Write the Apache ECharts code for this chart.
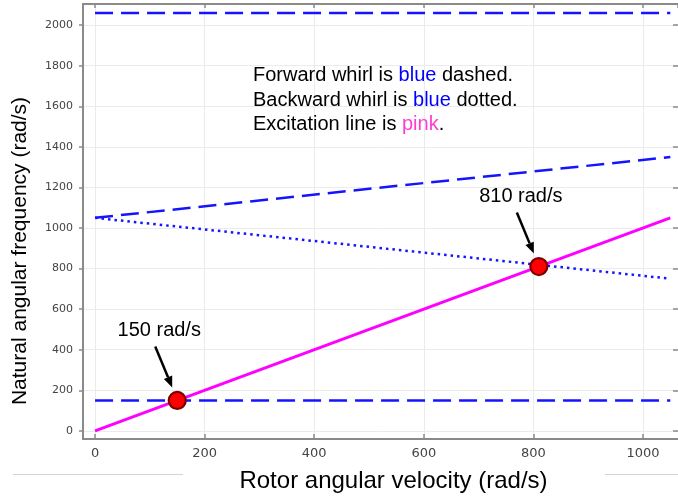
<!DOCTYPE html>
<html>
<head>
<meta charset="utf-8">
<script src="https://cdn.jsdelivr.net/npm/echarts@6/dist/echarts.min.js"></script>
<style>
  html, body { margin: 0; padding: 0; background: #fff; }
  #chart { width: 678px; height: 498px; }
</style>
</head>
<body>
<div id="chart"></div>
<script>
// Rotor speed range (rad/s) over which the natural frequencies are traced
const rotorSpeed = [0, 1050];
// Natural angular frequencies (rad/s) at the ends of that range
const forwardWhirl = [1050, 1350];
const backwardWhirl = [1050, 750];
const lowMode = [150, 150];
const highMode = [2060, 2060];
// Synchronous (1x) excitation: frequency equals rotor speed
const excitation = [0, 1050];
// Critical speeds where the excitation line meets a whirl branch
const criticalSpeeds = [150, 810];

const BLUE = '#1414ff';
const PINK = '#ff00ff';
const AXIS_GREY = '#8a8a8a';
const TEXT_FONT = 'Liberation Sans, Arial, sans-serif';

const toPoints = ys => rotorSpeed.map((x, i) => [x, ys[i]]);
const plainNumber = v => String(v);

const chart = echarts.init(document.getElementById('chart'), null, { renderer: 'canvas' });

const dashed = { color: BLUE, width: 2.5, type: [18, 8] };
const dotted = { color: BLUE, width: 2.5, type: [2.5, 4], cap: 'butt' };

const baseX = { type: 'value', min: -22, max: 1064, splitNumber: 5 };
const baseY = { type: 'value', min: -40, max: 2104, splitNumber: 10 };

chart.setOption({
  animation: false,
  grid: { left: 83, right: 0, top: 4, bottom: 59, containLabel: false },
  xAxis: [
    Object.assign({}, baseX, {
      position: 'bottom',
      axisLine: { onZero: false, lineStyle: { color: AXIS_GREY, width: 2 } },
      axisTick: { inside: true, length: 5, lineStyle: { color: AXIS_GREY, width: 1.5 } },
      axisLabel: {
        fontSize: 13, color: '#444', margin: 8, fontFamily: 'DejaVu Sans',
        showMinLabel: false, showMaxLabel: false, formatter: plainNumber
      },
      splitLine: { show: true, lineStyle: { color: '#ebebeb', width: 1 } }
    }),
    Object.assign({}, baseX, {
      position: 'top',
      axisLine: { show: true, onZero: false, lineStyle: { color: AXIS_GREY, width: 2 } },
      axisTick: { show: true, inside: true, length: 4, lineStyle: { color: AXIS_GREY, width: 1.5 } },
      axisLabel: { show: false },
      splitLine: { show: false }
    })
  ],
  yAxis: [
    Object.assign({}, baseY, {
      position: 'left',
      axisLine: { show: true, onZero: false, lineStyle: { color: AXIS_GREY, width: 2 } },
      axisTick: { show: true, inside: false, length: 4, lineStyle: { color: AXIS_GREY, width: 1.5 } },
      axisLabel: {
        fontSize: 11, color: '#444', margin: 10, fontFamily: 'DejaVu Sans',
        showMinLabel: false, showMaxLabel: false, formatter: plainNumber
      },
      splitLine: { show: true, lineStyle: { color: '#ebebeb', width: 1 } }
    }),
    Object.assign({}, baseY, {
      position: 'right',
      axisLine: { show: false, onZero: false },
      axisTick: { show: true, inside: true, length: 5, lineStyle: { color: AXIS_GREY, width: 1.5 } },
      axisLabel: { show: false },
      splitLine: { show: false }
    })
  ],
  series: [
    { name: 'High mode', type: 'line', data: toPoints(highMode), symbol: 'none', lineStyle: dashed, z: 3 },
    { name: 'Forward whirl', type: 'line', data: toPoints(forwardWhirl), symbol: 'none', lineStyle: dashed, z: 3 },
    { name: 'Backward whirl', type: 'line', data: toPoints(backwardWhirl), symbol: 'none', lineStyle: dotted, z: 3 },
    { name: 'Low mode', type: 'line', data: toPoints(lowMode), symbol: 'none', lineStyle: dashed, z: 3 },
    { name: 'Excitation', type: 'line', data: toPoints(excitation), symbol: 'none',
      lineStyle: { color: PINK, width: 3 }, z: 4 },
    {
      name: 'Critical speed', type: 'scatter', z: 6,
      data: criticalSpeeds.map(v => [v, v]),
      symbol: 'circle', symbolSize: 17,
      itemStyle: { color: '#ff0000', borderColor: '#7a0000', borderWidth: 2.2, opacity: 1 },
      label: {
        show: true, position: 'inside', offset: [-18, -70],
        formatter: p => criticalSpeeds[p.dataIndex] + ' rad/s',
        fontSize: 20, color: '#000', fontFamily: TEXT_FONT
      }
    }
  ]
});

// Arrows from each critical-speed label down to its marker
const arrows = [];
criticalSpeeds.forEach(v => {
  const p = chart.convertToPixel({ xAxisIndex: 0, yAxisIndex: 0 }, [v, v]);
  const x1 = p[0] - 22, y1 = p[1] - 54;
  const x2 = p[0] - 5, y2 = p[1] - 13;
  const ang = Math.atan2(y2 - y1, x2 - x1);
  const headLen = 11, headHalf = 4.5;
  const bx = x2 - headLen * Math.cos(ang), by = y2 - headLen * Math.sin(ang);
  const nx = -Math.sin(ang), ny = Math.cos(ang);
  arrows.push({
    type: 'line', z: 20,
    shape: { x1: x1, y1: y1, x2: bx, y2: by },
    style: { stroke: '#000', lineWidth: 2.5 }
  });
  arrows.push({
    type: 'polygon', z: 20,
    shape: { points: [[x2, y2], [bx + nx * headHalf, by + ny * headHalf], [bx - nx * headHalf, by - ny * headHalf]] },
    style: { fill: '#000' }
  });
});

const richBase = { fontSize: 20, fontFamily: TEXT_FONT, lineHeight: 24.5 };

chart.setOption({
  graphic: arrows.concat([
    {
      type: 'text', left: 253, top: 63.5, z: 20,
      style: {
        text: 'Forward whirl is {b|blue} dashed.\nBackward whirl is {b|blue} dotted.\nExcitation line is {p|pink}.',
        fontSize: 20, fontFamily: TEXT_FONT, fill: '#000', lineHeight: 24.5,
        rich: {
          b: Object.assign({ fill: '#0000ff' }, richBase),
          p: Object.assign({ fill: '#ff3ccf' }, richBase)
        }
      }
    },
    {
      type: 'text', x: 20, y: 251, rotation: Math.PI / 2, z: 20,
      style: {
        text: 'Natural angular frequency (rad/s)', fontSize: 21, fontFamily: TEXT_FONT,
        fill: '#000', align: 'center', verticalAlign: 'middle'
      }
    },
    {
      type: 'text', x: 393.5, y: 481, z: 20,
      style: {
        text: 'Rotor angular velocity (rad/s)', fontSize: 24, fontFamily: TEXT_FONT,
        fill: '#000', align: 'center', verticalAlign: 'middle'
      }
    },
    { type: 'line', z: 1, shape: { x1: 13, y1: 474.5, x2: 183, y2: 474.5 }, style: { stroke: '#d4d4d4', lineWidth: 1 } },
    { type: 'line', z: 1, shape: { x1: 605, y1: 474.5, x2: 678, y2: 474.5 }, style: { stroke: '#d4d4d4', lineWidth: 1 } }
  ])
});
</script>
</body>
</html>
